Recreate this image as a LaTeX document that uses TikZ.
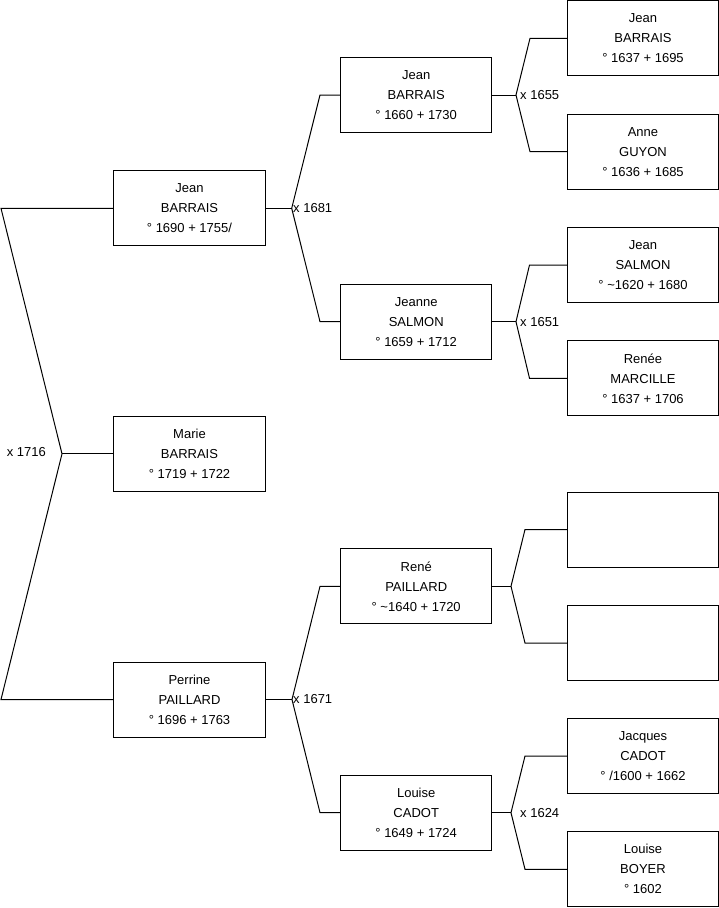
\documentclass[tikz,border=0pt]{standalone}
\usepackage{fontspec}
\setmainfont{Liberation Sans}
\usetikzlibrary{positioning}

\tikzset{
  person/.style={draw,line width=1pt,minimum width=151.3pt,minimum height=75pt,
    inner sep=0pt,align=center,font=\fontsize{13}{20}\selectfont},
  wedding/.style={inner sep=0pt,font=\fontsize{13}{15}\selectfont},
  link/.style={line width=1pt}
}

\begin{document}
\begin{tikzpicture}[x=1pt,y=-1pt]

		\useasboundingbox (0,0) rectangle (719,908);

		% Generation 1
		\node[person] (jean1) at (189.5,208.3) {Jean\\BARRAIS\\° 1690 + 1755/};
		\node[person] (marie) at (189.5,453.8) {Marie\\BARRAIS\\° 1719 + 1722};
		\node[person] (perrine) at (189.5,699.5) {Perrine\\PAILLARD\\° 1696 + 1763};

		% Generation 2
		\node[person] (jean2) at (416.2,95) {Jean\\BARRAIS\\° 1660 + 1730};
		\node[person] (jeanne) at (416.2,321.7) {Jeanne\\SALMON\\° 1659 + 1712};
		\node[person] (rene) at (416.2,586.3) {René\\PAILLARD\\° \textasciitilde1640 + 1720};
		\node[person] (louise1) at (416.2,812.7) {Louise\\CADOT\\° 1649 + 1724};

		% Generation 3
		\node[person] (jean3) at (643,38.3) {Jean\\BARRAIS\\° 1637 + 1695};
		\node[person] (anne) at (643,151.7) {Anne\\GUYON\\° 1636 + 1685};
		\node[person] (jean4) at (643,265) {Jean\\SALMON\\° \textasciitilde1620 + 1680};
		\node[person] (renee) at (643,378.3) {Renée\\MARCILLE\\° 1637 + 1706};
		\node[person] (blank1) at (643,529.5) {};
		\node[person] (blank2) at (643,643) {};
		\node[person] (jacques) at (643,756) {Jacques\\CADOT\\° /1600 + 1662};
		\node[person] (louise2) at (643,869.3) {Louise\\BOYER\\° 1602};

		% Fork points
		\coordinate (m0) at (62,453.8);
		\coordinate (t0) at (1,208.3);
		\coordinate (b0) at (1,699.5);
		\coordinate (m1) at (291.7,208.3);
		\coordinate (m2) at (292,699.5);
		\coordinate (m3) at (516,95);
		\coordinate (m4) at (516,321.7);
		\coordinate (m5) at (511,586.3);
		\coordinate (m6) at (511,812.7);

		% Links
		\draw[link] (jean1.west) -- (t0) -- (m0) -- (b0) -- (perrine.west);
		\draw[link] (m0) -- (marie.west);
		\draw[link] (jean1.east) -- (m1);
		\draw[link] (jean2.west) -- (320,95) -- (m1) -- (320,321.7) -- (jeanne.west);
		\draw[link] (perrine.east) -- (m2);
		\draw[link] (rene.west) -- (320,586.3) -- (m2) -- (320,812.7) -- (louise1.west);
		\draw[link] (jean2.east) -- (m3);
		\draw[link] (jean3.west) -- (530,38.3) -- (m3) -- (530,151.7) -- (anne.west);
		\draw[link] (jeanne.east) -- (m4);
		\draw[link] (jean4.west) -- (529.5,265) -- (m4) -- (529.5,378.3) -- (renee.west);
		\draw[link] (rene.east) -- (m5);
		\draw[link] (blank1.west) -- (525,529.5) -- (m5) -- (525,643) -- (blank2.west);
		\draw[link] (louise1.east) -- (m6);
		\draw[link] (jacques.west) -- (525,756) -- (m6) -- (525,869.3) -- (louise2.west);

		% Weddings
		\node[wedding,anchor=east] (w0) at (46,452.5) {x 1716};
		\node[wedding,anchor=west] (w1) at (293,208) {x 1681};
		\node[wedding,anchor=west] (w2) at (293,699) {x 1671};
		\node[wedding,anchor=west] (w3) at (520,95) {x 1655};
		\node[wedding,anchor=west] (w4) at (520,321.7) {x 1651};
		\node[wedding,anchor=west] (w6) at (520,812.7) {x 1624};

	\end{tikzpicture}
\end{document}
